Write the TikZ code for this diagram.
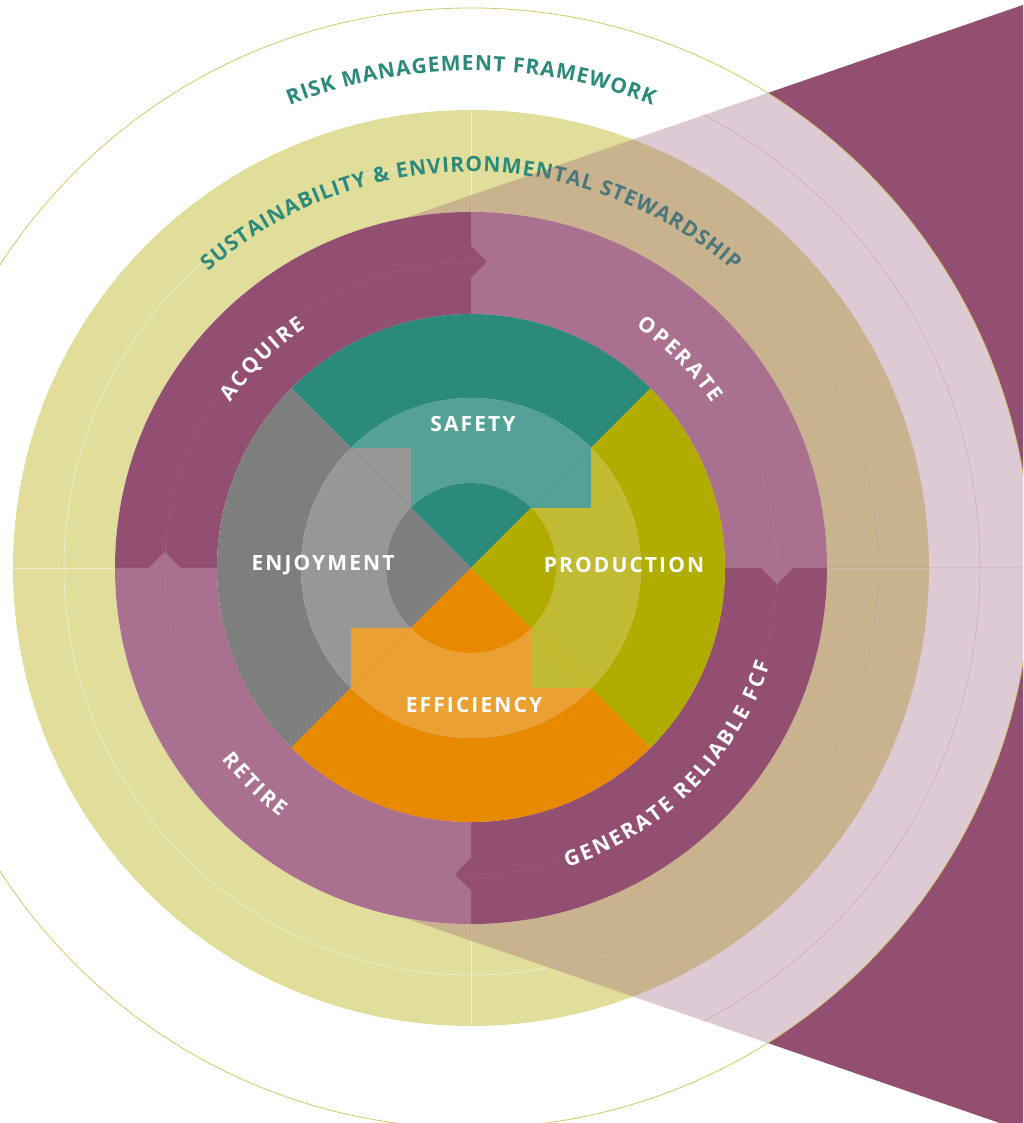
\documentclass[tikz,border=0pt]{standalone}
\usepackage{fontspec}
\setmainfont{Open Sans}
\newfontfamily\osf{Open Sans}
\newfontfamily\osls{Open Sans}[LetterSpace=10]
\usetikzlibrary{decorations.text}
\definecolor{pdark}{HTML}{934F72}
\definecolor{plight}{HTML}{A9708F}
\definecolor{ylw}{HTML}{E1DD9B}
\definecolor{tealD}{HTML}{2C8A7C}
\definecolor{tealL}{HTML}{55A195}
\definecolor{oliveD}{HTML}{B0AD00}
\definecolor{oliveL}{HTML}{C0BB33}
\definecolor{orangeD}{HTML}{E88A00}
\definecolor{orangeL}{HTML}{EBA033}
\definecolor{greyD}{HTML}{7E7E7E}
\definecolor{greyL}{HTML}{979797}
\definecolor{ttl}{HTML}{2B8A7B}
\definecolor{rimc}{HTML}{CFC86A}
\newcommand\pfont{\osf\bfseries\fontsize{21}{25}\selectfont}
\newcommand\ringsec[5]{\fill[#1] (#2:#4) arc[start angle=#2,end angle=#3,radius=#4] -- (#3:#5) arc[start angle=#3,end angle=#2,radius=#5] -- cycle;}
\newcommand\wedgepath{(-110,334.7) -- (720,621) -- (720,-621) -- (-110,-334.7) -- cycle}
\tikzset{
  ctext/.style={decorate, decoration={text effects along path, text align=center}},
  guideW/.style={white, opacity=0.55, line width=0.6pt},
  guideP/.style={pdark, opacity=0.3, line width=0.5pt},
  diag/.style={opacity=0.45, line width=0.6pt},
  lbl/.style={text=white, font=\osls\bfseries\fontsize{21}{25}\selectfont, inner sep=0pt},
}
\begin{document}
\begin{tikzpicture}[x=1pt,y=1pt]
\useasboundingbox (-471,-555) rectangle (552,568);
\clip (-471,-555) rectangle (552,568);
% sustainability ring
\fill[ylw, even odd rule] (0,0) circle[radius=458] (0,0) circle[radius=356];
\draw[guideW] (0,0) circle[radius=407];
\draw[guideW] (-458,0) -- (-356,0) (356,0) -- (458,0) (0,356) -- (0,458) (0,-356) -- (0,-458);
% titles
\path[ctext, decoration={text={RISK MANAGEMENT FRAMEWORK}, text effects/.cd, text along path, characters={anchor=base, font=\pfont, text=ttl, inner xsep=0.5pt}}] (150:497) arc[start angle=150,end angle=30,radius=497];
\path[ctext, decoration={text={SUSTAINABILITY {\&} ENVIRONMENTAL STEWARDSHIP}, text effects/.cd, text along path, characters={anchor=base, font=\pfont, text=ttl, inner xsep=0.5pt}}] (160:396) arc[start angle=160,end angle=20,radius=396];
% big translucent wedge
\begin{scope}
  \clip \wedgepath;
  \fill[pdark, opacity=0.3] (0,0) circle[radius=560];
  \fill[pdark, even odd rule] (-600,-700) rectangle (800,700) (0,0) circle[radius=560];
  \draw[guideP] (0,0) circle[radius=509] (0,0) circle[radius=407] (356,0) -- (560,0) (0,356) -- (0,560) (0,-356) -- (0,-560);
\end{scope}
\draw[rimc, line width=0.8pt] (0,0) circle[radius=560];
% purple ring
\ringsec{pdark}{90}{180}{254}{356}
\ringsec{plight}{0}{90}{254}{356}
\ringsec{pdark}{270}{360}{254}{356}
\ringsec{plight}{180}{270}{254}{356}
\fill[pdark] (0,290) -- (16,306) -- (0,322) -- cycle;
\fill[plight] (-290,0) -- (-306,16) -- (-322,0) -- cycle;
\fill[plight] (290,0) -- (306,-16) -- (322,0) -- cycle;
\fill[pdark] (0,-290) -- (-16,-306) -- (0,-322) -- cycle;
\draw[white, opacity=0.07, line width=0.6pt] (0,0) circle[radius=306];
% ring labels
\path[ctext, decoration={text={ACQUIRE}, text effects/.cd, text along path, characters={anchor=base, font=\pfont, text=white, inner xsep=1.2pt}}] (170:292) arc[start angle=170,end angle=100,radius=292];
\path[ctext, decoration={text={OPERATE}, text effects/.cd, text along path, characters={anchor=base, font=\pfont, text=white, inner xsep=1.2pt}}] (80:292) arc[start angle=80,end angle=10,radius=292];
\path[ctext, decoration={text={RETIRE}, text effects/.cd, text along path, characters={anchor=base, font=\pfont, text=white, inner xsep=1.2pt}}] (190:314) arc[start angle=190,end angle=260,radius=314];
\path[ctext, decoration={text={GENERATE RELIABLE FCF}, text effects/.cd, text along path, characters={anchor=base, font=\pfont, text=white, inner xsep=1.15pt}}] (-85:314) arc[start angle=-85,end angle=-5,radius=314];
% centre: outer dark ring
\ringsec{tealD}{45}{135}{170}{254}
\ringsec{greyD}{135}{225}{170}{254}
\ringsec{orangeD}{225}{315}{170}{254}
\ringsec{oliveD}{-45}{45}{170}{254}
% light ring
\ringsec{tealL}{45}{135}{85}{170}
\ringsec{greyL}{135}{225}{85}{170}
\ringsec{orangeL}{225}{315}{85}{170}
\ringsec{oliveL}{-45}{45}{85}{170}
\fill[tealL] (60.1,60.1) rectangle (120.2,120.2);
\fill[oliveL] (60.1,-60.1) rectangle (120.2,-120.2);
\fill[orangeL] (-60.1,-60.1) rectangle (-120.2,-120.2);
\fill[greyL] (-60.1,60.1) rectangle (-120.2,120.2);
\draw[diag, tealD] (45:85) -- (45:170) (135:85) -- (135:170);
\draw[diag, orangeD] (-45:85) -- (-45:170) (225:85) -- (225:170);
% inner disk
\fill[tealD] (0,0) -- (45:85) arc[start angle=45,end angle=135,radius=85] -- cycle;
\fill[greyD] (0,0) -- (135:85) arc[start angle=135,end angle=225,radius=85] -- cycle;
\fill[orangeD] (0,0) -- (225:85) arc[start angle=225,end angle=315,radius=85] -- cycle;
\fill[oliveD] (0,0) -- (-45:85) arc[start angle=-45,end angle=45,radius=85] -- cycle;
% labels
\node[lbl] (safety) at (2,144) {SAFETY};
\node[lbl] (enjoy) at (-148,3) {ENJOYMENT};
\node[lbl] (prod) at (153,3) {PRODUCTION};
\node[lbl] (eff) at (3,-137) {EFFICIENCY};
\end{tikzpicture}
\end{document}
